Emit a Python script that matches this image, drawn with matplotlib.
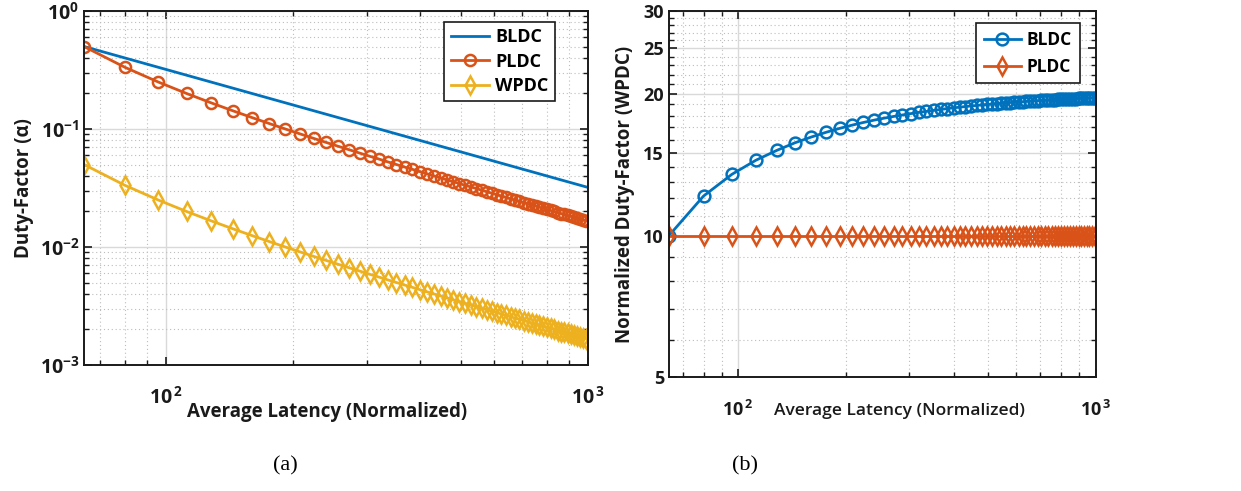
import matplotlib
matplotlib.use("Agg")
import matplotlib.pyplot as plt
from matplotlib.ticker import FixedLocator, NullFormatter

plt.rcParams["font.family"] = ["Open Sans", "DejaVu Sans"]
plt.rcParams["mathtext.fontset"] = "custom"
plt.rcParams["mathtext.bf"] = "Open Sans:bold"
plt.rcParams["mathtext.rm"] = "Open Sans:bold"

BLUE   = "#0072BD"
ORANGE = "#D95319"
YELLOW = "#EDB120"
INK    = "#1a1a1a"

# ---- data ----
latency = [64, 80, 96, 112, 128, 144, 160, 176, 192, 208, 224, 240, 256, 272, 288,
           304, 320, 336, 352, 368, 384, 400, 416, 432, 448, 464, 480, 496, 512, 528,
           544, 560, 576, 592, 608, 624, 640, 656, 672, 688, 704, 720, 736, 752, 768,
           784, 800, 816, 832, 848, 864, 880, 896, 912, 928, 944, 960, 976, 992]

bldc_x = [64, 1000]
bldc_duty = [0.5, 0.032]

pldc_duty = [0.5, 0.3333, 0.25, 0.2, 0.1667, 0.1429, 0.125, 0.1111, 0.1, 0.0909,
             0.0833, 0.0769, 0.0714, 0.0667, 0.0625, 0.0588, 0.0556, 0.0526, 0.05, 0.0476,
             0.0455, 0.0435, 0.0417, 0.04, 0.0385, 0.037, 0.0357, 0.0345, 0.0333, 0.0323,
             0.0313, 0.0303, 0.0294, 0.0286, 0.0278, 0.027, 0.0263, 0.0256, 0.025, 0.0244,
             0.0238, 0.0233, 0.0227, 0.0222, 0.0217, 0.0213, 0.0208, 0.0204, 0.02, 0.0196,
             0.0192, 0.0189, 0.0185, 0.0182, 0.0179, 0.0175, 0.0172, 0.0169, 0.0167]

wpdc_duty = [0.05, 0.03333, 0.025, 0.02, 0.01667, 0.01429, 0.0125, 0.01111, 0.01, 0.00909,
             0.00833, 0.00769, 0.00714, 0.00667, 0.00625, 0.00588, 0.00556, 0.00526, 0.005, 0.00476,
             0.00455, 0.00435, 0.00417, 0.004, 0.00385, 0.0037, 0.00357, 0.00345, 0.00333, 0.00323,
             0.00313, 0.00303, 0.00294, 0.00286, 0.00278, 0.0027, 0.00263, 0.00256, 0.0025, 0.00244,
             0.00238, 0.00233, 0.00227, 0.00222, 0.00217, 0.00213, 0.00208, 0.00204, 0.002, 0.00196,
             0.00192, 0.00189, 0.00185, 0.00182, 0.00179, 0.00175, 0.00172, 0.00169, 0.00167]

bldc_norm = [10, 12.14, 13.5, 14.46, 15.17, 15.75, 16.2, 16.58, 16.9, 17.17,
             17.4, 17.6, 17.77, 17.92, 18.05, 18.17, 18.28, 18.37, 18.46, 18.54,
             18.62, 18.69, 18.75, 18.81, 18.86, 18.91, 18.96, 19.0, 19.04, 19.08,
             19.11, 19.15, 19.18, 19.21, 19.24, 19.26, 19.29, 19.31, 19.33, 19.36,
             19.38, 19.4, 19.42, 19.43, 19.45, 19.47, 19.48, 19.5, 19.51, 19.53,
             19.54, 19.55, 19.57, 19.58, 19.59, 19.6, 19.61, 19.62, 19.63]

pldc_norm = [10, 10, 10, 10, 10, 10, 10, 10, 10, 10,
             10, 10, 10, 10, 10, 10, 10, 10, 10, 10,
             10, 10, 10, 10, 10, 10, 10, 10, 10, 10,
             10, 10, 10, 10, 10, 10, 10, 10, 10, 10,
             10, 10, 10, 10, 10, 10, 10, 10, 10, 10,
             10, 10, 10, 10, 10, 10, 10, 10, 10]

left_yticks = [1e-3, 1e-2, 1e-1, 1]
left_ylabels = [r"$\mathbf{10^{-3}}$", r"$\mathbf{10^{-2}}$", r"$\mathbf{10^{-1}}$", r"$\mathbf{10^{0}}$"]
xticks = [100, 1000]
xlabels = [r"$\mathbf{10^{\,2}}$", r"$\mathbf{10^{\,3}}$"]
right_yticks = [5, 10, 15, 20, 25, 30]


def style_axes(ax, tick_size):
    ax.set_xscale("log")
    ax.set_yscale("log")
    ax.grid(True, which="major", color="#d9d9d9", lw=1.0, ls="-")
    ax.grid(True, which="minor", color="#bdbdbd", lw=0.8, ls=(0, (1, 2.5)))
    ax.set_axisbelow(True)
    ax.tick_params(which="both", direction="in", top=True, right=True,
                   colors=INK, labelsize=tick_size)
    ax.tick_params(which="major", length=6, width=1.2)
    ax.tick_params(which="minor", length=3.5, width=1.0)
    ax.tick_params(axis="x", which="major", pad=16)
    for sp in ax.spines.values():
        sp.set_color(INK)
        sp.set_linewidth(1.4)
    ax.set_xlim(64, 1000)
    ax.xaxis.set_major_locator(FixedLocator(xticks))
    ax.set_xticklabels(xlabels)
    ax.xaxis.set_minor_locator(FixedLocator([70, 80, 90, 200, 300, 400, 500, 600, 700, 800, 900]))
    ax.xaxis.set_minor_formatter(NullFormatter())


def bold_ticks(ax):
    for lab in ax.get_xticklabels() + ax.get_yticklabels():
        lab.set_fontweight("bold")
        lab.set_color(INK)


fig = plt.figure(figsize=(12.41, 4.91), dpi=100)
ax1 = fig.add_axes([0.0677, 0.2566, 0.406, 0.721])
ax2 = fig.add_axes([0.539, 0.2314, 0.344, 0.746])

# (a) duty factor
ax1.plot(bldc_x, bldc_duty, color=BLUE, lw=2, label="BLDC")
ax1.plot(latency, pldc_duty, color=ORANGE, lw=2, marker="o", ms=8, mfc="none",
         mew=1.8, label="PLDC")
ax1.plot(latency, wpdc_duty, color=YELLOW, lw=2, marker="d", ms=9, mfc="none",
         mew=1.8, label="WPDC")
style_axes(ax1, 14)
ax1.set_ylim(1e-3, 1)
ax1.yaxis.set_major_locator(FixedLocator(left_yticks))
ax1.set_yticklabels(left_ylabels)
bold_ticks(ax1)
ax1.set_ylabel("Duty-Factor (α)", fontsize=13.5, fontweight="bold", color=INK)
ax1.yaxis.set_label_coords(-0.10, 0.5)
ax1.set_xlabel("Average Latency (Normalized)", fontsize=13.5, fontweight="bold", color=INK)
ax1.xaxis.set_label_coords(0.482, -0.105)
leg = ax1.legend(loc="upper right", bbox_to_anchor=(0.934, 0.969), fancybox=False,
                 edgecolor=INK, framealpha=1, prop={"weight": "bold", "size": 13},
                 handlelength=2.1, borderpad=0.35, labelspacing=0.35, handletextpad=0.35,
                 borderaxespad=0)
leg.get_frame().set_linewidth(1.2)

# (b) normalized duty factor
ax2.plot(latency, bldc_norm, color=BLUE, lw=2, marker="o", ms=8.5, mfc="none",
         mew=1.8, label="BLDC")
ax2.plot(latency, pldc_norm, color=ORANGE, lw=2, marker="d", ms=9, mfc="none",
         mew=1.8, label="PLDC")
style_axes(ax2, 13)
ax2.set_ylim(5, 30)
ax2.yaxis.set_major_locator(FixedLocator(right_yticks))
ax2.set_yticklabels([str(t) for t in right_yticks])
ax2.yaxis.set_minor_locator(FixedLocator([v for v in range(6, 30) if v % 5 != 0]))
ax2.yaxis.set_minor_formatter(NullFormatter())
bold_ticks(ax2)
ax2.set_ylabel("Normalized Duty-Factor (WPDC)", fontsize=13.5, fontweight="bold", color=INK)
ax2.yaxis.set_label_coords(-0.08, 0.5)
ax2.set_xlabel("Average Latency (Normalized)", fontsize=12.5, fontweight="semibold",
               color=INK)
ax2.xaxis.set_label_coords(0.541, -0.07)
leg2 = ax2.legend(loc="upper right", bbox_to_anchor=(0.9625, 0.967), fancybox=False,
                  edgecolor=INK, framealpha=1, prop={"weight": "bold", "size": 12.5},
                  handlelength=2.1, borderpad=0.45, labelspacing=0.5, handletextpad=0.35,
                  borderaxespad=0)
leg2.get_frame().set_linewidth(1.2)

fig.text(285 / 1241, 1 - 466 / 491, "(a)", fontsize=16, family="Liberation Serif",
         ha="center", va="center")
fig.text(745 / 1241, 1 - 466 / 491, "(b)", fontsize=16, family="Liberation Serif",
         ha="center", va="center")

fig.savefig("out.png", dpi=100)
